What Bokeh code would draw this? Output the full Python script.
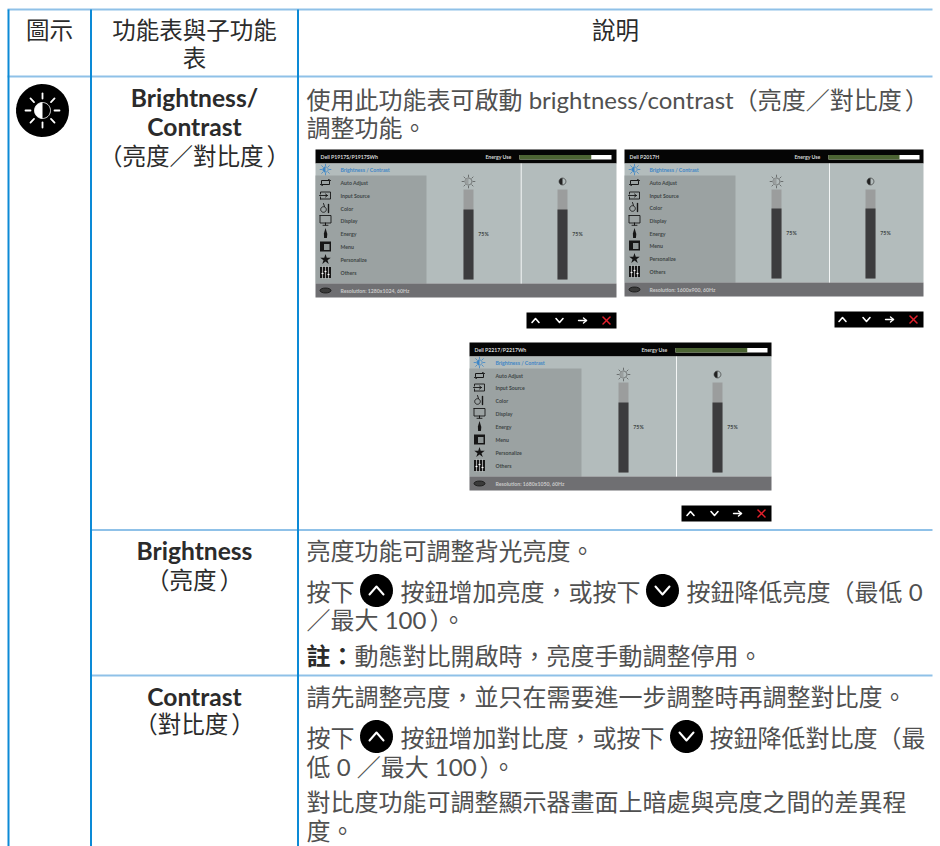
import numpy as np
from bokeh.plotting import figure
from bokeh.embed import file_html
from bokeh.resources import INLINE
from bokeh.core.properties import value

# ---------- data / text ----------
header_labels = ["圖示", "說明"]
menu_items = ["Brightness / Contrast", "Auto Adjust", "Input Source", "Color", "Display",
              "Energy", "Menu", "Personalize", "Others"]
panel_models = ["Dell P1917S/P1917SWh", "Dell P2017H", "Dell P2217/P2217Wh"]
panel_resolutions = ["Resolution: 1280x1024, 60Hz", "Resolution: 1600x900, 60Hz", "Resolution: 1680x1050, 60Hz"]
brightness_pct = [75, 75, 75]
contrast_pct = [75, 75, 75]
energy_pct = [78, 78, 78]

FONT = "Lato, 'Noto Sans CJK TC'"
BODY = "#505050"
HEAD = "#2b2b2b"
NAVY = "#0c8ad6"
PALE = "#8fc1e8"
OSD_SIZE = 5.2
TS = "\u2009"

p = figure(width=940, height=846, x_range=(0, 940), y_range=(846, 0),
           x_axis_type=None, y_axis_type=None, toolbar_location=None,
           output_backend="svg", min_border=0, outline_line_color=None,
           background_fill_color="white", border_fill_color="white")
p.grid.visible = False


def txt(x, y, s, size=24, color=BODY, bold=False, align="left", font=FONT):
    p.text([x], [y], text=[s], text_font=value(font), text_font_size=f"{size}px",
           text_color=color, text_align=align, text_baseline="middle",
           text_font_style="bold" if bold else "normal")


def bar(x0, x1, y0, y1, color):
    p.quad(left=[x0], right=[x1], top=[y0], bottom=[y1], fill_color=color, line_color=None)


def stroke(xs, ys, color="#111111", w=1.0):
    p.line(xs, ys, line_color=color, line_width=w, line_cap="round", line_join="round")


def ring(x, y, r, color="#111111", w=1.0, fill=None):
    t = np.linspace(0, 2 * np.pi, 40)
    if fill:
        p.patch(x + r * np.cos(t), y + r * np.sin(t), fill_color=fill, line_color=color, line_width=w)
    else:
        p.line(x + r * np.cos(t), y + r * np.sin(t), line_color=color, line_width=w)


def half(x, y, r, color):
    t = np.linspace(np.pi / 2, 3 * np.pi / 2, 24)
    p.patch(x + r * np.cos(t), y + r * np.sin(t), fill_color=color, line_color=None)


def rays(x, y, r0, r1, color, w):
    for a in np.arange(8) * np.pi / 4:
        stroke([x + r0 * np.cos(a), x + r1 * np.cos(a)], [y + r0 * np.sin(a), y + r1 * np.sin(a)], color, w)


# ---------- menu icons ----------
def menu_icon(i, x, y):
    k = "#161616"
    if i == 0:
        blue = "#3c86c8"
        ring(x, y, 2.6, blue, 0.8)
        half(x, y, 2.6, blue)
        rays(x, y, 3.6, 5.4, blue, 0.8)
    elif i == 1:
        stroke([x - 4, x - 4, x + 4, x + 3, x + 5], [y + 1, y - 2, y - 2, y - 3, y - 2], k, 1)
        stroke([x + 4, x + 4, x - 4, x - 3, x - 5], [y - 1, y + 2, y + 2, y + 3, y + 2], k, 1)
    elif i == 2:
        stroke([x - 5, x - 5, x + 5, x + 5, x - 5], [y - 1.5, y - 3.5, y - 3.5, y + 3.5, y + 3.5], k, 0.9)
        stroke([x - 5, x - 5], [y + 1.5, y + 3.5], k, 0.9)
        stroke([x - 6, x + 2], [y, y], k, 0.9)
        stroke([x, x + 2, x], [y - 1.5, y, y + 1.5], k, 0.9)
    elif i == 3:
        ring(x - 2, y + 1, 2.8, k, 0.9)
        stroke([x - 2, x - 1], [y - 5, y - 2], k, 0.9)
        stroke([x + 3, x + 3], [y - 4, y + 4], k, 1.4)
    elif i == 4:
        stroke([x - 5.5, x + 5.5, x + 5.5, x - 5.5, x - 5.5], [y - 5, y - 5, y + 2.5, y + 2.5, y - 5], k, 0.9)
        stroke([x, x], [y + 2.5, y + 4.5], k, 1)
        stroke([x - 2.5, x + 2.5], [y + 4.8, y + 4.8], k, 0.9)
    elif i == 5:
        p.patch([x, x + 1.8, x + 1.4, x - 1.4, x - 1.6], [y - 5.5, y + 0.5, y + 4.5, y + 4.5, y], fill_color=k, line_color=None)
    elif i == 6:
        bar(x - 5.5, x + 5.5, y - 5, y + 5, k)
        bar(x - 1.5, x + 4, y - 2.5, y + 3.5, "#8f9696")
    elif i == 7:
        p.scatter([x], [y], marker="star", size=11, fill_color=k, line_color=None)
    else:
        bar(x - 5.5, x + 5.5, y - 5.5, y + 5.5, k)
        for dx in (-3, 0, 3):
            stroke([x + dx, x + dx], [y - 5.5, y + 5.5], "white", 0.6)
        for dx, dy in ((-3, 1), (0, -1), (3, 2)):
            bar(x + dx - 1, x + dx + 1, y + dy - 0.6, y + dy + 0.6, "white")


# ---------- one on-screen display ----------
def panel(n, x0, x1, top, head, hi, foot, bottom, menu_r, sep, b1, b2, b_top, b_bot, e0, e1, text_x, row_ys, nav):
    scale = 70 / 75
    bar(x0, x1, top, head, "#050505")
    bar(x0, x1, head, foot, "#b3bcbc")
    bar(x0, menu_r, hi, foot, "#9ba2a2")
    bar(x0, x1, foot, bottom, "#6f6f72")
    bar(sep - 0.5, sep + 0.5, head, foot, "#f4f6f6")

    # header
    txt(x0 + 5, top + 7, panel_models[n], OSD_SIZE, "#d8d8d8", True)
    txt(e0 - 8, top + 7, "Energy Use", OSD_SIZE, "#d8d8d8", True, "right")
    bar(e0, e1, top + 5.5, top + 10, "white")
    bar(e0, e0 + (e1 - e0) * energy_pct[n] / 100, top + 5.5, top + 10, "#4c6433")

    # menu
    for i, (name, ry) in enumerate(zip(menu_items, row_ys)):
        txt(text_x, ry, name, OSD_SIZE, "#3f86c6" if i == 0 else "#3e4646", True)
        menu_icon(i, x0 + 10, ry)

    # level columns
    for bx, pct in ((b1, brightness_pct[n]), (b2, contrast_pct[n])):
        bar(bx, bx + 10, b_top, b_bot, "#9b9d9d")
        bar(bx, bx + 10, b_bot - pct * scale, b_bot, "#3c3c3e")
        txt(bx + 20, b_bot - 46, f"{pct}%", OSD_SIZE, "#3e4646", True, "center")
    ix = b1 + 5
    ring(ix, b_top - 8, 3.4, "#3a3a3a", 0.6)
    half(ix, b_top - 8, 3.4, "#9a9f9f")
    rays(ix, b_top - 8, 4.6, 6.4, "#3a3a3a", 0.6)
    ring(b2 + 5, b_top - 8, 3.4, "#222222", 0.6)
    half(b2 + 5, b_top - 8, 3.4, "#222222")

    # footer
    p.ellipse([x0 + 10], [foot + 7], width=[11], height=[5], fill_color="#3a3a3a", line_color="#111111", line_width=0.8)
    txt(text_x, foot + 7, panel_resolutions[n], OSD_SIZE, "#c9c9c9", True)

    # navigation strip
    nx0, nx1, ny0, ny1 = nav
    bar(nx0, nx1, ny0, ny1, "#000000")
    cy = (ny0 + ny1) / 2
    cx = [nx1 - 81, nx1 - 57, nx1 - 34, nx1 - 10]
    stroke([cx[0] - 3.5, cx[0], cx[0] + 3.5], [cy + 2, cy - 2, cy + 2], "white", 1.6)
    stroke([cx[1] - 3.5, cx[1], cx[1] + 3.5], [cy - 2, cy + 2, cy - 2], "white", 1.6)
    stroke([cx[2] - 4, cx[2] + 4], [cy, cy], "white", 1.4)
    stroke([cx[2] + 1, cx[2] + 4, cx[2] + 1], [cy - 2.5, cy, cy + 2.5], "white", 1.4)
    stroke([cx[3] - 3.5, cx[3] + 3.5], [cy - 3.5, cy + 3.5], "#e4202c", 1.5)
    stroke([cx[3] - 3.5, cx[3] + 3.5], [cy + 3.5, cy - 3.5], "#e4202c", 1.5)


# ---------- table rules ----------
for y in (9, 76):
    p.segment(x0=[7], x1=[932], y0=[y], y1=[y], line_color=PALE, line_width=2)
for y in (529.5, 675):
    p.segment(x0=[90], x1=[932], y0=[y], y1=[y], line_color=PALE, line_width=2)
for x in (8, 90.5, 297.5):
    p.segment(x0=[x], x1=[x], y0=[9], y1=[846], line_color=NAVY, line_width=2)

# ---------- header row ----------
txt(49, 29, header_labels[0], 23.5, HEAD, False, "center")
txt(194, 29, "功能表與子功能", 23.5, HEAD, False, "center")
txt(194, 57, "表", 23.5, HEAD, False, "center")
txt(615, 29, header_labels[1], 23.5, HEAD, False, "center")

# ---------- left column ----------
ic_x, ic_y = 42, 110
ring(ic_x, ic_y, 26.5, "#000000", 0, "#000000")
ring(ic_x, ic_y, 8, "white", 0.8)
half(ic_x, ic_y, 8, "white")
rays(ic_x, ic_y, 12, 17, "white", 1.8)

txt(194, 97, "Brightness/", 24.6, HEAD, True, "center")
txt(194, 126, "Contrast", 24.6, HEAD, True, "center")
txt(194, 155, f"（亮度／對比度{TS}）", 23.5, HEAD, False, "center")
txt(194, 550, "Brightness", 24.6, HEAD, True, "center")
txt(194, 579, f"（亮度{TS}）", 23.5, HEAD, False, "center")
txt(194, 696, "Contrast", 24.6, HEAD, True, "center")
txt(194, 723, f"（對比度{TS}）", 23.5, HEAD, False, "center")

# ---------- description text ----------
txt(306, 99, f"使用此功能表可啟動 brightness/contrast（亮度／對比度{TS}）")
txt(306, 127, "調整功能。")
txt(306, 550, "亮度功能可調整背光亮度。")
txt(306, 591, "按下")
txt(400, 591, "按鈕增加亮度，或按下")
txt(686, 591, "按鈕降低亮度（最低 0")
txt(306, 619, f"／最大 100{TS}）。")
txt(306, 655, "註：", 24, HEAD, True)
txt(354, 655, "動態對比開啟時，亮度手動調整停用。")
txt(306, 696, "請先調整亮度，並只在需要進一步調整時再調整對比度。")
txt(306, 737, "按下")
txt(400, 737, "按鈕增加對比度，或按下")
txt(709, 737, "按鈕降低對比度（最")
txt(306, 766, f"低 0 ／最大 100{TS}）。")
txt(306, 801, "對比度功能可調整顯示器畫面上暗處與亮度之間的差異程")
txt(306, 830, "度。")


def up_btn(x, y):
    ring(x, y, 16.5, "#000000", 0, "#000000")
    stroke([x - 7, x, x + 7], [y + 4, y - 4, y + 4], "white", 2)


def down_btn(x, y):
    ring(x, y, 16.5, "#000000", 0, "#000000")
    stroke([x - 7, x, x + 7], [y - 4, y + 4, y - 4], "white", 2)


up_btn(376, 590)
down_btn(662, 590)
up_btn(376, 736)
down_btn(686, 736)

# ---------- the three displays ----------
panel(0, 315, 616, 149, 163, 175, 283, 297, 426, 520.7, 463, 557, 189, 279, 519, 611, 340,
      [169, 182, 195, 208, 220, 233, 246, 259, 272], (526, 616, 312, 328))
panel(1, 624, 923, 149, 163, 175, 282, 296, 735, 829, 771, 865, 189, 278, 828, 919, 649,
      [169, 182, 195, 207, 220, 233, 245, 258, 271], (834, 923, 311, 327))
panel(2, 469, 771, 342, 356, 368, 476, 490, 581, 676, 618, 712, 382, 472, 675, 767, 495,
      [362, 375, 387, 400, 413, 426, 439, 452, 465], (681, 771, 505, 521))

open("out.html", "w").write(file_html(p, INLINE))
